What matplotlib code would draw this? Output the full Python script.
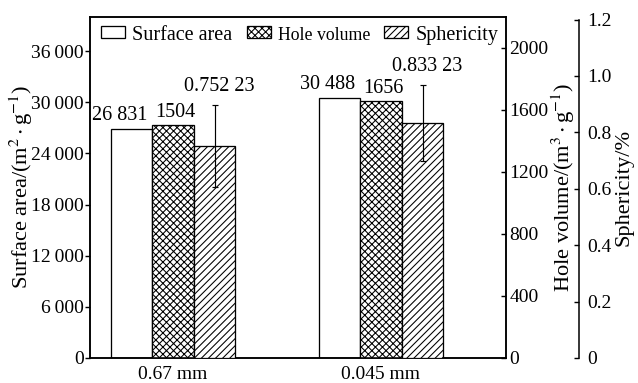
import numpy as np
import matplotlib
matplotlib.use('Agg')
import matplotlib.pyplot as plt
from matplotlib.ticker import FuncFormatter

plt.rcParams['font.family'] = ['Liberation Serif', 'DejaVu Serif']
plt.rcParams['mathtext.fontset'] = 'stix'
plt.rcParams['hatch.linewidth'] = 0.9
plt.rcParams['axes.linewidth'] = 1.3

# data
sizes = ['0.67 mm', '0.045 mm']
surface_area = [26831, 30488]
hole_volume = [1504, 1656]
sphericity = [0.75223, 0.83323]
sphericity_err = [0.146, 0.134]
surface_labels = ['26 831', '30 488']
hole_labels = ['1504', '1656']
sphericity_labels = ['0.752 23', '0.833 23']

DPI = 85
fig = plt.figure(figsize=(638 / DPI, 383 / DPI), dpi=DPI)
ax1 = fig.add_axes([90 / 638, 25 / 383, 415.7 / 638, 341 / 383])
ax2 = ax1.twinx()
ax3 = ax1.twinx()

x = np.arange(len(sizes))
w = 0.2

b1 = ax1.bar(x - w, surface_area, w, color='white', edgecolor='black', linewidth=1.1)
b2 = ax2.bar(x, hole_volume, w, color='white', edgecolor='black', linewidth=1.1, hatch='xxxx')
b3 = ax3.bar(x + w, sphericity, w, color='white', edgecolor='black', linewidth=1.1, hatch='////')
ax3.errorbar(x + w, sphericity, yerr=sphericity_err, fmt='none', ecolor='black',
             elinewidth=1.0, capsize=2.4, capthick=1.0)

# value labels
for i in range(len(sizes)):
    ax1.annotate(surface_labels[i], (x[i] - w, surface_area[i]), xytext=(-12, 4),
                 textcoords='offset pixels', ha='center', va='bottom', fontsize=17)
    ax2.annotate(hole_labels[i], (x[i], hole_volume[i]), xytext=(2, 3),
                 textcoords='offset pixels', ha='center', va='bottom', fontsize=17)
    ax3.annotate(sphericity_labels[i], (x[i] + w, sphericity[i] + sphericity_err[i]),
                 xytext=(5, 9), textcoords='offset pixels', ha='center', va='bottom', fontsize=17)

ax1.set_xlim(-0.4, 1.6)
ax1.set_xticks(x)
ax1.set_xticklabels(sizes, fontsize=16.5)
ax1.tick_params(axis='x', length=0, pad=7)

ax1.set_ylim(0, 40000)
ax1.set_yticks(np.arange(0, 36001, 6000))
ax1.yaxis.set_major_formatter(FuncFormatter(lambda v, p: f'{int(v):,}'.replace(',', '\u2009')))
ax1.tick_params(axis='y', direction='out', length=4, width=1.2, labelsize=16.5, pad=1)
ax1.set_ylabel('Surface area/(m$^2\\cdot$g$^{-1}$)', fontsize=19)
ax1.yaxis.set_label_coords(-0.165, 0.5)
ax1.yaxis.label.set_va('center')

ax2.set_ylim(0, 2200)
ax2.set_yticks(np.arange(0, 2001, 400))
ax2.tick_params(axis='y', direction='in', length=4, width=1.2, labelsize=16.5, pad=3)
ax2.set_ylabel('Hole volume/(m$^3\\cdot$g$^{-1}$)', fontsize=19)
ax2.yaxis.set_label_coords(1.138, 0.5)
ax2.yaxis.label.set_va('center')

ax3.set_ylim(0, 1.209)
ax3.set_yticks(np.arange(0, 1.21, 0.2))
ax3.yaxis.set_major_formatter(FuncFormatter(lambda v, p: '0' if v == 0 else f'{v:.1f}'))
ax3.spines['right'].set_position(('axes', 1.177))
ax3.spines['right'].set_bounds(0, 1.2)
for s in ['top', 'left', 'bottom']:
    ax3.spines[s].set_visible(False)
ax3.tick_params(axis='y', direction='in', length=4, width=1.2, labelsize=16.5, pad=7)
ax3.set_ylabel('Sphericity/%', fontsize=19)
ax3.yaxis.set_label_coords(1.285, 0.5)
ax3.yaxis.label.set_va('center')

leg = ax3.legend([b1, b2, b3], ['Surface area', 'Hole volume', 'Sphericity'],
                 loc='upper left', bbox_to_anchor=(0.027, 0.975), ncol=3, frameon=False,
                 fontsize=17, handlelength=1.2, handleheight=0.55, handletextpad=0.35,
                 columnspacing=0.7, borderpad=0, borderaxespad=0)
leg.get_texts()[1].set_fontsize(15)

fig.savefig('out.png', dpi=DPI)
